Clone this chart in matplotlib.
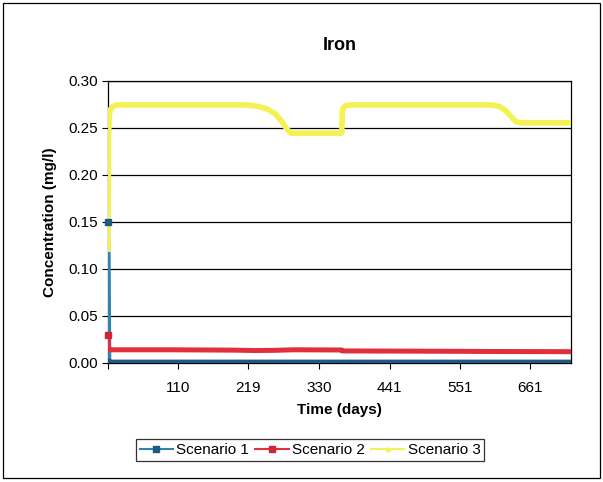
import matplotlib
matplotlib.use('Agg')
import matplotlib.pyplot as plt
from matplotlib.patches import Rectangle

plt.rcParams['font.family'] = ['Liberation Sans', 'DejaVu Sans']

# Scenario 1 - drops out almost immediately
days_s1 = [0, 1, 2, 5, 725]
iron_s1 = [0.150, 0.115, 0.002, 0.001, 0.001]

# Scenario 2 - low, nearly flat
days_s2 = [0, 1, 2, 100, 200, 230, 260, 290, 366, 367, 500, 600, 725]
iron_s2 = [0.030, 0.017, 0.0140, 0.0140, 0.0136, 0.0132, 0.0134, 0.0140, 0.0138, 0.0128, 0.0125, 0.0122, 0.0120]

# Scenario 3 - two step-downs and a recovery
days_s3 = [0, 1, 2, 4, 8, 15, 215, 235, 250, 262, 272, 280, 286, 366, 367, 369, 373, 380,
           600, 612, 622, 630, 638, 645, 725]
iron_s3 = [0.118, 0.240, 0.262, 0.270, 0.273, 0.2745, 0.2745, 0.273, 0.270, 0.265, 0.257, 0.249, 0.2445,
           0.2445, 0.268, 0.272, 0.274, 0.2745, 0.2745, 0.273, 0.269, 0.263, 0.257, 0.2555, 0.2555]

xticks = [0, 110, 219, 330, 441, 551, 661]
xticklabels = ['', '110', '219', '330', '441', '551', '661']
yticks = [0.00, 0.05, 0.10, 0.15, 0.20, 0.25, 0.30]

fig = plt.figure(figsize=(6.03, 4.82), dpi=100)
ax = fig.add_axes([0.179, 0.247, 0.768, 0.585])

ax.plot(days_s1, iron_s1, color='#2f84b2', lw=3, zorder=3, label='Scenario 1')
ax.plot(days_s1[2:], iron_s1[2:], color='#1d5a86', lw=3.4, zorder=3)
ax.plot(days_s2, iron_s2, color='#e0303e', lw=3.6, zorder=3, label='Scenario 2')
ax.plot(days_s3, iron_s3, color='#f3f154', lw=4, zorder=3.5, solid_capstyle='butt', label='Scenario 3')
ax.plot(days_s1[:1], iron_s1[:1], 's', color='#1d5a86', ms=4, zorder=4, clip_on=False)
ax.plot(days_s2[:1], iron_s2[:1], 's', color='#d02535', ms=4, zorder=4, clip_on=False)

ax.set_xlim(0, 725)
ax.set_ylim(0, 0.30)
ax.set_xticks(xticks)
ax.set_xticklabels(xticklabels)
ax.set_yticks(yticks)
ax.set_yticklabels(['%.2f' % v for v in yticks])
ax.tick_params(axis='both', direction='out', length=4, width=0.8, labelsize=11, color='black')
ax.tick_params(axis='x', pad=9)

ax.grid(axis='y', color='black', lw=0.9)
ax.set_axisbelow(True)
for s in ax.spines.values():
    s.set_color('black')
    s.set_linewidth(0.9)

ax.set_title('Iron', fontsize=13, fontweight='bold', pad=22)
ax.set_xlabel('Time (days)', fontsize=11, fontweight='bold', labelpad=6)
ax.set_ylabel('Concentration (mg/l)', fontsize=11, fontweight='bold', labelpad=8)

# legend handles with the little square markers
h1, = ax.plot([], [], color='#2f84b2', lw=1.5, marker='s', ms=4, mfc='#1d5a86', mec='#1d5a86')
h2, = ax.plot([], [], color='#e0303e', lw=1.5, marker='s', ms=4, mfc='#d02535', mec='#d02535')
h3, = ax.plot([], [], color='#f3f154', lw=1.5, marker='^', ms=3, mfc='#f3f154', mec='#f3f154')
leg = fig.legend([h1, h2, h3], ['Scenario 1', 'Scenario 2', 'Scenario 3'],
                 loc='center', bbox_to_anchor=(310 / 603, 1 - 450 / 482), ncol=3,
                 fontsize=11, frameon=True, fancybox=False, edgecolor='black',
                 handlelength=2.2, handletextpad=0.2, columnspacing=0.4,
                 borderpad=0.25, borderaxespad=0.2)
leg.get_frame().set_linewidth(0.9)

fig.patches.append(Rectangle((0.005, 0.008), 0.99, 0.985, transform=fig.transFigure,
                             fill=False, edgecolor='black', lw=0.9))

fig.savefig('out.png', dpi=100)
